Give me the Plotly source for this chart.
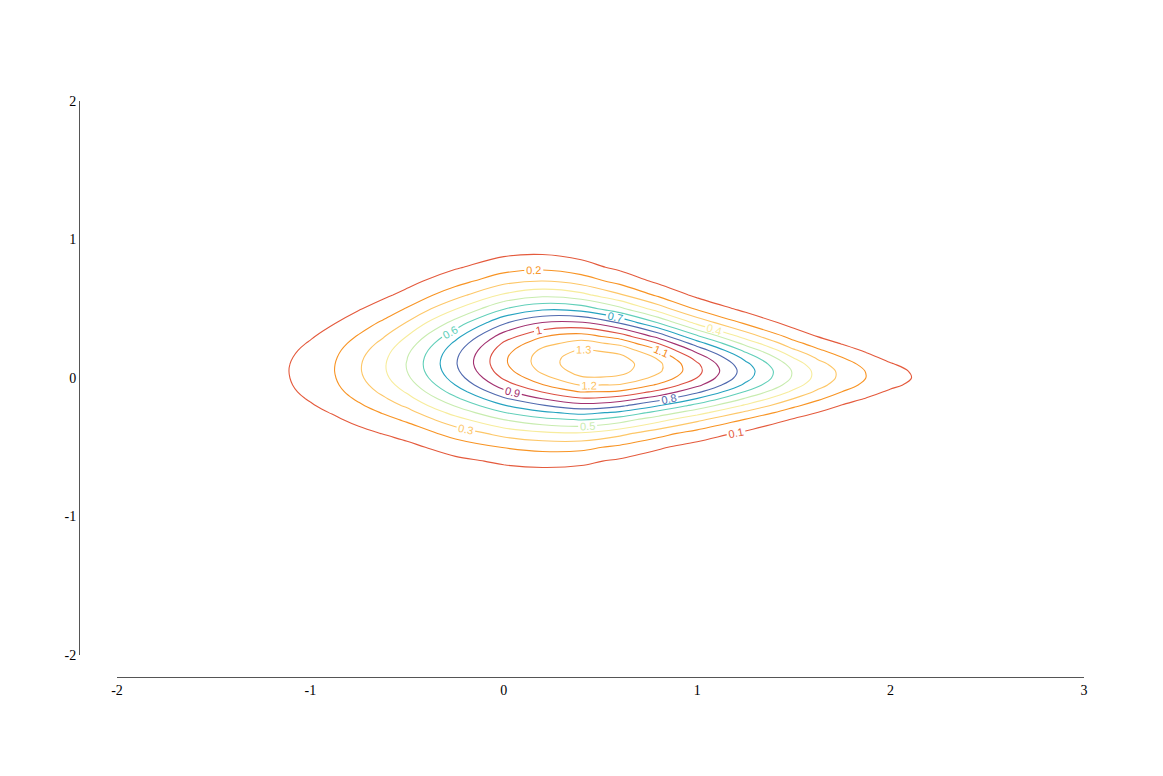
import plotly.graph_objects as go

# grid (values estimated from the drawn contours)
x_grid = [-1.5, -1.25, -1.125, -1.0, -0.875, -0.75, -0.625, -0.5, -0.25, 0.0,
          0.2, 0.4, 0.6, 0.8, 1.0, 1.25, 1.5, 1.625, 1.75, 1.875, 2.0, 2.125,
          2.25, 2.5]
y_main = [-0.9, -0.8, -0.7, -0.6, -0.5, -0.4, -0.3, -0.2, -0.1, 0.0, 0.1,
          0.2, 0.3, 0.4, 0.5, 0.6, 0.7, 0.8, 0.9, 1.0, 1.1]
y_mid = [-0.25, -0.15, -0.05, 0.05, 0.15, 0.25]

# one column of z per x value, on y_main (bottom to top)
z_main = [
    [0, 0, 0, 0, 0.001, 0.003, 0.007, 0.012, 0.017, 0.020, 0.019, 0.015, 0.009, 0.005, 0.002, 0.001, 0, 0, 0, 0, 0],
    [0, 0, 0, 0.001, 0.004, 0.008, 0.016, 0.027, 0.038, 0.044, 0.044, 0.036, 0.025, 0.015, 0.007, 0.003, 0.001, 0, 0, 0, 0],
    [0, 0, 0.001, 0.003, 0.008, 0.018, 0.035, 0.057, 0.079, 0.092, 0.092, 0.077, 0.055, 0.033, 0.017, 0.007, 0.003, 0.001, 0, 0, 0],
    [0, 0.001, 0.002, 0.006, 0.014, 0.031, 0.057, 0.091, 0.124, 0.144, 0.144, 0.124, 0.091, 0.057, 0.031, 0.014, 0.006, 0.002, 0.001, 0, 0],
    [0.001, 0.002, 0.005, 0.012, 0.027, 0.052, 0.087, 0.130, 0.170, 0.195, 0.198, 0.177, 0.139, 0.096, 0.058, 0.031, 0.015, 0.006, 0.002, 0.001, 0],
    [0.001, 0.003, 0.008, 0.018, 0.039, 0.074, 0.125, 0.185, 0.243, 0.281, 0.288, 0.261, 0.209, 0.149, 0.093, 0.051, 0.025, 0.011, 0.004, 0.001, 0],
    [0.002, 0.005, 0.012, 0.027, 0.056, 0.103, 0.168, 0.246, 0.320, 0.371, 0.384, 0.355, 0.291, 0.214, 0.140, 0.081, 0.042, 0.020, 0.008, 0.003, 0.001],
    [0.002, 0.007, 0.017, 0.037, 0.074, 0.134, 0.217, 0.316, 0.411, 0.481, 0.505, 0.476, 0.403, 0.306, 0.208, 0.127, 0.070, 0.034, 0.015, 0.006, 0.002],
    [0.007, 0.018, 0.039, 0.078, 0.143, 0.239, 0.365, 0.508, 0.645, 0.747, 0.790, 0.761, 0.669, 0.537, 0.393, 0.262, 0.160, 0.089, 0.045, 0.021, 0.009],
    [0.012, 0.028, 0.059, 0.115, 0.204, 0.334, 0.501, 0.691, 0.873, 1.014, 1.082, 1.059, 0.952, 0.785, 0.595, 0.413, 0.265, 0.155, 0.083, 0.041, 0.019],
    [0.013, 0.031, 0.066, 0.129, 0.231, 0.379, 0.572, 0.791, 1.004, 1.167, 1.246, 1.220, 1.095, 0.901, 0.680, 0.471, 0.300, 0.174, 0.093, 0.046, 0.021],
    [0.010, 0.025, 0.058, 0.120, 0.227, 0.389, 0.607, 0.859, 1.103, 1.287, 1.364, 1.313, 1.147, 0.910, 0.656, 0.429, 0.254, 0.137, 0.068, 0.030, 0.012],
    [0.005, 0.014, 0.036, 0.084, 0.177, 0.330, 0.550, 0.818, 1.084, 1.280, 1.348, 1.266, 1.058, 0.790, 0.526, 0.311, 0.165, 0.078, 0.033, 0.012, 0.004],
    [0.001, 0.005, 0.016, 0.046, 0.112, 0.238, 0.439, 0.701, 0.973, 1.170, 1.222, 1.105, 0.867, 0.591, 0.349, 0.179, 0.079, 0.031, 0.010, 0.003, 0.001],
    [0, 0.002, 0.006, 0.022, 0.063, 0.157, 0.325, 0.564, 0.820, 0.998, 1.015, 0.865, 0.617, 0.368, 0.184, 0.077, 0.027, 0.008, 0.002, 0, 0],
    [0, 0, 0.001, 0.007, 0.026, 0.080, 0.195, 0.381, 0.593, 0.735, 0.727, 0.573, 0.360, 0.180, 0.072, 0.023, 0.006, 0.001, 0, 0, 0],
    [0, 0, 0, 0.001, 0.006, 0.028, 0.091, 0.217, 0.378, 0.483, 0.454, 0.314, 0.159, 0.059, 0.016, 0.003, 0, 0, 0, 0, 0],
    [0, 0, 0, 0, 0.003, 0.015, 0.057, 0.151, 0.280, 0.366, 0.335, 0.215, 0.097, 0.031, 0.007, 0.001, 0, 0, 0, 0, 0],
    [0, 0, 0, 0, 0.001, 0.006, 0.028, 0.093, 0.198, 0.274, 0.246, 0.143, 0.054, 0.013, 0.002, 0, 0, 0, 0, 0, 0],
    [0, 0, 0, 0, 0, 0.002, 0.014, 0.056, 0.137, 0.198, 0.169, 0.085, 0.026, 0.005, 0, 0, 0, 0, 0, 0, 0],
    [0, 0, 0, 0, 0, 0, 0.002, 0.021, 0.084, 0.144, 0.108, 0.035, 0.005, 0, 0, 0, 0, 0, 0, 0, 0],
    [0, 0, 0, 0, 0, 0, 0.001, 0.010, 0.051, 0.093, 0.062, 0.015, 0.001, 0, 0, 0, 0, 0, 0, 0, 0],
    [0, 0, 0, 0, 0, 0, 0, 0.003, 0.017, 0.033, 0.019, 0.003, 0, 0, 0, 0, 0, 0, 0, 0, 0],
    [0, 0, 0, 0, 0, 0, 0, 0, 0.005, 0.010, 0.006, 0.001, 0, 0, 0, 0, 0, 0, 0, 0, 0],
]

# extra half-step rows near the ridge, same column order, on y_mid
z_mid = [
    [0.009, 0.014, 0.019, 0.020, 0.017, 0.012],
    [0.022, 0.033, 0.042, 0.045, 0.041, 0.031],
    [0.046, 0.069, 0.087, 0.094, 0.086, 0.066],
    [0.074, 0.108, 0.136, 0.147, 0.136, 0.108],
    [0.108, 0.151, 0.185, 0.200, 0.190, 0.159],
    [0.154, 0.215, 0.265, 0.289, 0.279, 0.237],
    [0.206, 0.284, 0.349, 0.383, 0.374, 0.326],
    [0.265, 0.365, 0.450, 0.500, 0.497, 0.443],
    [0.435, 0.579, 0.702, 0.777, 0.784, 0.722],
    [0.595, 0.785, 0.952, 1.059, 1.082, 1.014],
    [0.680, 0.901, 1.095, 1.220, 1.246, 1.167],
    [0.730, 0.986, 1.207, 1.342, 1.354, 1.242],
    [0.681, 0.954, 1.194, 1.332, 1.325, 1.174],
    [0.564, 0.841, 1.086, 1.217, 1.183, 0.997],
    [0.438, 0.695, 0.925, 1.029, 0.958, 0.747],
    [0.280, 0.489, 0.679, 0.752, 0.664, 0.467],
    [0.146, 0.297, 0.444, 0.487, 0.392, 0.232],
    [0.097, 0.215, 0.335, 0.366, 0.280, 0.151],
    [0.054, 0.143, 0.246, 0.274, 0.198, 0.093],
    [0.029, 0.094, 0.176, 0.195, 0.128, 0.050],
    [0.008, 0.047, 0.122, 0.138, 0.068, 0.015],
    [0.003, 0.026, 0.078, 0.086, 0.035, 0.005],
    [0.001, 0.008, 0.027, 0.029, 0.009, 0.001],
    [0, 0.002, 0.008, 0.008, 0.002, 0],
]

levels = [0.1, 0.2, 0.3, 0.4, 0.5, 0.6, 0.7, 0.8, 0.9, 1.0, 1.1, 1.2, 1.3]
level_colors = ["#e45a3c", "#f7901e", "#fdbf5e", "#fee996", "#e3f4ac", "#98dfb4",
                "#1fbcbf", "#2b8ec0", "#6756a6", "#b8235c", "#e45a3c", "#f7901e",
                "#fdbf5e"]

x_ticks = [-2, -1, 0, 1, 2, 3]
x_ticktext = ["-2", "-1", "0", "1", "2", "3"]
y_ticks = [-2, -1, 0, 1, 2]
y_ticktext = ["-2", "-1", "0", "1", "2"]

# merge the two row sets into one grid sorted by y
y_grid = sorted(y_main + y_mid)
columns = []
for main_col, mid_col in zip(z_main, z_mid):
    lookup = dict(zip(y_main, main_col))
    lookup.update(zip(y_mid, mid_col))
    columns.append([lookup[y] for y in y_grid])
z = [list(row) for row in zip(*columns)]

lo, hi = levels[0], levels[-1]
colorscale = [[(v - lo) / (hi - lo), c] for v, c in zip(levels, level_colors)]
colorscale[0][0] = 0.0
colorscale[-1][0] = 1.0

fig = go.Figure(
    go.Contour(
        x=x_grid,
        y=y_grid,
        z=z,
        zmin=lo,
        zmax=hi,
        colorscale=colorscale,
        showscale=False,
        contours=dict(
            start=lo,
            end=hi,
            size=0.1,
            coloring="lines",
            showlabels=True,
            labelfont=dict(family="Liberation Sans, Arial, sans-serif", size=11),
        ),
        line=dict(width=1.1, smoothing=1),
        hoverinfo="skip",
    )
)

axis_font = dict(family="Liberation Serif, Times New Roman, serif", size=14, color="#000")
fig.update_xaxes(
    range=[-2, 3],
    domain=[0.0378, 1],
    anchor="free",
    position=0,
    tickvals=x_ticks,
    ticktext=x_ticktext,
    showgrid=False,
    zeroline=False,
    showline=True,
    linecolor="#555",
    linewidth=1,
    ticks="",
    tickfont=axis_font,
)
fig.update_yaxes(
    range=[-2, 2],
    domain=[0.0382, 1],
    anchor="free",
    position=0,
    tickvals=y_ticks,
    ticktext=y_ticktext,
    showgrid=False,
    zeroline=False,
    showline=True,
    linecolor="#555",
    linewidth=1,
    ticks="",
    tickfont=axis_font,
)
fig.update_layout(
    width=1155,
    height=768,
    paper_bgcolor="white",
    plot_bgcolor="white",
    margin=dict(l=71, r=79, t=93, b=99),
    showlegend=False,
)

fig.write_html("out.html")
